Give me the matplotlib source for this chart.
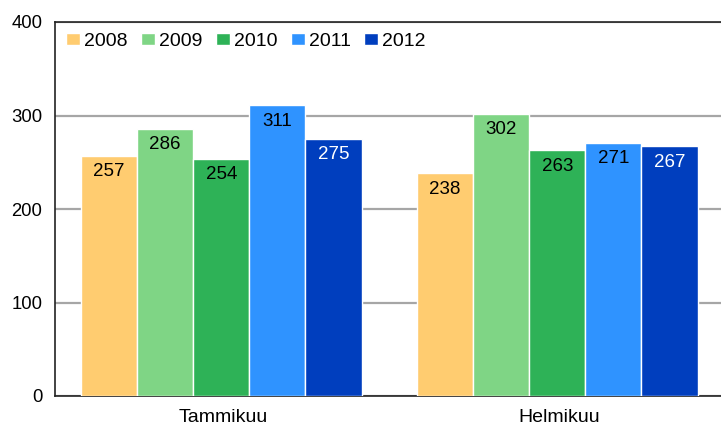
import matplotlib
matplotlib.use("Agg")
import matplotlib.pyplot as plt
from matplotlib import font_manager
import numpy as np

categories = ["Tammikuu", "Helmikuu"]
years = ["2008", "2009", "2010", "2011", "2012"]
values = {
    "2008": [257, 238],
    "2009": [286, 302],
    "2010": [254, 263],
    "2011": [311, 271],
    "2012": [275, 267],
}
colors = ["#FFCC70", "#7FD585", "#2EB257", "#2F93FF", "#003EBE"]
label_colors = ["black", "black", "black", "black", "white"]
yticks = [0, 100, 200, 300, 400]

names = {f.name for f in font_manager.fontManager.ttflist}
main_font = "Liberation Sans" if "Liberation Sans" in names else "DejaVu Sans"

plt.rcParams["font.family"] = [main_font, "DejaVu Sans"]

fig = plt.figure(figsize=(7.21, 4.25), dpi=100)
W, H = 721, 425
left_px, right_px, top_px, bot_px = 55, 727, 22, 396
ax = fig.add_axes([left_px / W, 1 - bot_px / H, (right_px - left_px) / W, (bot_px - top_px) / H])

x = np.arange(len(categories))
bw = 0.167
n = len(years)
for i, yr in enumerate(years):
    pos = x + (i - (n - 1) / 2) * bw - 0.005
    bars = ax.bar(pos, values[yr], width=bw, color=colors[i], edgecolor="white",
                  linewidth=1.0, label=yr, zorder=3)
    for b, v in zip(bars, values[yr]):
        ax.annotate(str(v), (b.get_x() + b.get_width() / 2, v), xytext=(0, -11.5),
                    textcoords="offset points", ha="center", va="center",
                    fontsize=13.5, color=label_colors[i], zorder=4)

ax.set_xlim(-0.5, 1.5)
ax.set_ylim(0, 400)
ax.set_yticks(yticks)
ax.set_yticklabels([str(t) for t in yticks], fontsize=13.3)
ax.set_xticks(x)
ax.set_xticklabels(categories, fontsize=14)
ax.tick_params(axis="y", length=0, pad=9)
ax.tick_params(axis="x", length=0, pad=9.5)
ax.yaxis.grid(True, color="#A6A6A6", linewidth=1.6, zorder=0)
ax.set_axisbelow(True)
for s in ["left", "top", "bottom"]:
    ax.spines[s].set_color("#222222")
    ax.spines[s].set_linewidth(1.2)
ax.spines["right"].set_visible(False)

leg = ax.legend(loc="upper left", ncol=5, frameon=False, fontsize=14,
                handlelength=0.72, handleheight=0.62, handletextpad=0.22,
                columnspacing=0.68, borderaxespad=0.1, borderpad=0.45,
                bbox_to_anchor=(0.0, 1.0))

fig.savefig("out.png", dpi=100)
